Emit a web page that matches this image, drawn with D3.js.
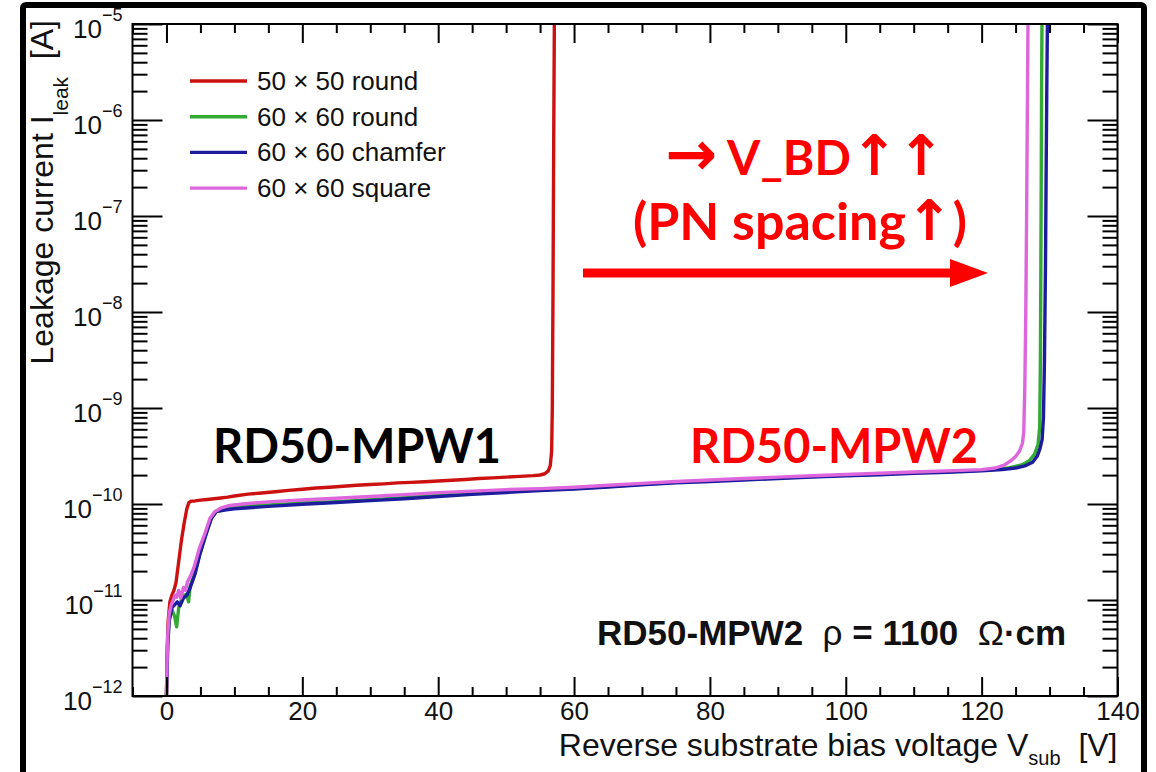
<!DOCTYPE html>
<html>
<head>
<meta charset="utf-8">
<script src="https://cdn.jsdelivr.net/npm/d3@7"></script>
<style>
  html, body { margin: 0; padding: 0; background: #fff; }
  svg { display: block; }
</style>
</head>
<body>
<svg id="chart" width="1156" height="772"></svg>
<script>
// ---------------- data ----------------
// voltages in V, currents as log10(I / A)
const seriesNames = ["50 \u00d7 50 round", "60 \u00d7 60 round", "60 \u00d7 60 chamfer", "60 \u00d7 60 square"];
const seriesColors = ["#cc1111", "#33aa33", "#1c1c9c", "#dd66dd"];

const redV    = [0, 0.1, 0.25, 0.5, 0.8, 1.1, 1.4, 1.8, 2.2, 2.6, 3.0, 3.3, 3.7, 4.2, 5, 6, 7, 8, 9, 10, 12, 14, 16, 18, 20, 22, 24, 26, 28, 30, 32, 34, 36, 38, 40, 42, 44, 46, 48, 50, 52, 54, 55, 55.7, 56.2, 56.5, 56.7, 56.8, 56.9, 57.0, 57.1];
const redLogI = [-12, -11.52, -11.22, -11.02, -10.95, -10.9, -10.82, -10.6, -10.38, -10.2, -10.05, -9.985, -9.97, -9.968, -9.96, -9.953, -9.946, -9.938, -9.929, -9.917, -9.897, -9.886, -9.872, -9.858, -9.846, -9.834, -9.826, -9.815, -9.805, -9.797, -9.79, -9.78, -9.775, -9.768, -9.76, -9.752, -9.745, -9.735, -9.728, -9.72, -9.712, -9.704, -9.698, -9.685, -9.655, -9.6, -9.45, -9.0, -7.8, -6.3, -5.0];

const greenV    = [0, 0.1, 0.2, 0.4, 0.8, 1.2, 1.5, 1.8, 2.2, 2.6, 3.0, 3.25, 3.5, 4.2, 4.9, 5.8, 6.6, 7.3, 8.8, 10, 15, 20, 25, 30, 35, 40, 45, 50, 55, 60, 65, 70, 75, 80, 85, 90, 95, 100, 105, 110, 115, 120, 124, 126, 127, 127.8, 128.3, 128.55, 128.65, 128.72, 128.78, 128.83, 128.88];
const greenLogI = [-12, -11.68, -11.42, -11.2, -11.1, -11.17, -11.28, -11.08, -11.0, -10.95, -10.94, -11.02, -10.85, -10.72, -10.52, -10.32, -10.15, -10.08, -10.05, -10.03, -10.01, -9.99, -9.975, -9.955, -9.935, -9.91, -9.89, -9.87, -9.852, -9.838, -9.817, -9.795, -9.775, -9.758, -9.743, -9.728, -9.714, -9.7, -9.69, -9.675, -9.664, -9.65, -9.625, -9.59, -9.55, -9.48, -9.38, -9.2, -8.5, -7.5, -6.5, -5.6, -5.0];

const blueV    = [0, 0.1, 0.2, 0.4, 0.8, 1.2, 1.6, 2.0, 2.5, 3.0, 3.5, 4.2, 4.9, 5.8, 6.6, 7.3, 8.8, 10, 15, 20, 25, 30, 35, 40, 45, 50, 55, 60, 65, 70, 75, 80, 85, 90, 95, 100, 105, 110, 115, 120, 123, 125, 126.5, 127.5, 128.2, 128.6, 128.9, 129.1, 129.25, 129.4, 129.5, 129.6, 129.68];
const blueLogI = [-12, -11.7, -11.45, -11.22, -11.08, -11.05, -11.02, -11.06, -10.98, -10.95, -10.87, -10.73, -10.53, -10.32, -10.15, -10.08, -10.06, -10.05, -10.025, -10.003, -9.985, -9.965, -9.945, -9.922, -9.9, -9.88, -9.86, -9.845, -9.823, -9.8, -9.78, -9.765, -9.75, -9.735, -9.72, -9.705, -9.695, -9.68, -9.67, -9.655, -9.64, -9.625, -9.6, -9.565, -9.5, -9.42, -9.33, -9.1, -8.5, -7.5, -6.5, -5.6, -5.0];

const magentaV    = [0, 0.1, 0.2, 0.4, 0.7, 1.0, 1.25, 1.5, 1.8, 2.1, 2.5, 2.8, 3.1, 3.6, 4.1, 4.85, 5.6, 6.4, 7.1, 8.1, 9.3, 12, 15, 20, 25, 30, 35, 40, 45, 50, 55, 60, 65, 70, 75, 80, 85, 90, 95, 100, 105, 110, 115, 120, 122, 123.3, 124.3, 125, 125.6, 126.0, 126.2, 126.35, 126.5, 126.62, 126.72, 126.82];
const magentaLogI = [-12, -11.6, -11.35, -11.15, -11.05, -11.0, -10.95, -10.97, -10.9, -10.98, -10.87, -10.9, -10.81, -10.74, -10.65, -10.46, -10.32, -10.15, -10.08, -10.04, -10.015, -9.995, -9.978, -9.958, -9.94, -9.922, -9.902, -9.882, -9.866, -9.85, -9.84, -9.825, -9.805, -9.785, -9.766, -9.75, -9.735, -9.72, -9.706, -9.692, -9.68, -9.667, -9.655, -9.642, -9.625, -9.595, -9.55, -9.505, -9.445, -9.37, -9.25, -8.8, -8.0, -7.0, -6.0, -5.0];

const xMajorTicks = [0, 20, 40, 60, 80, 100, 120, 140];
const xMinorTicks = [-5, 5, 10, 15, 25, 30, 35, 45, 50, 55, 65, 70, 75, 85, 90, 95, 105, 110, 115, 125, 130, 135];
const yExponents  = [-12, -11, -10, -9, -8, -7, -6, -5];

// ---------------- layout ----------------
const svg = d3.select("#chart");
const L = 132.5, R = 1117.5, T = 24, B = 696;
const x = d3.scaleLinear().domain([-5, 140]).range([L, R]);
const y = d3.scaleLog().domain([1e-12, 1e-5]).range([B, T]);
const axisFont = "'Liberation Sans', Arial, Helvetica, sans-serif";
const annFont = "Lato, 'Open Sans', sans-serif";
const arrowFont = "'DejaVu Sans', sans-serif";

svg.append("rect").attr("width", 1156).attr("height", 772).attr("fill", "#fff");
// outer thick frame
svg.append("rect").attr("x", 23).attr("y", 5).attr("width", 1121).attr("height", 820)
  .attr("rx", 3).attr("fill", "none").attr("stroke", "#000").attr("stroke-width", 6);

const series = [
  {V: redV, L: redLogI},
  {V: greenV, L: greenLogI},
  {V: blueV, L: blueLogI},
  {V: magentaV, L: magentaLogI}
];

// clip
svg.append("clipPath").attr("id", "clip").append("rect")
  .attr("x", L).attr("y", T).attr("width", R - L).attr("height", B - T);

const line = d3.line().x(d => x(d[0])).y(d => y(Math.pow(10, d[1])));
const gLines = svg.append("g").attr("clip-path", "url(#clip)");
series.forEach((s, i) => {
  const pts = s.V.map((v, j) => [v, s.L[j]]);
  gLines.append("path").attr("d", line(pts)).attr("fill", "none")
    .attr("stroke", seriesColors[i]).attr("stroke-width", 3.4)
    .attr("stroke-linejoin", "round").attr("stroke-linecap", "round");
});

// ---------------- axes ----------------
function styleAxis(g) {
  g.select(".domain").remove();
  g.selectAll("line").attr("stroke", "#000").attr("stroke-width", 2);
}
const yMajor = yExponents.map(e => Math.pow(10, e));
const yMinor = [];
for (let e = -12; e < -5; e++) for (let m = 2; m <= 9; m++) yMinor.push(m * Math.pow(10, e));

// bottom
svg.append("g").attr("transform", `translate(0,${B})`)
  .call(d3.axisBottom(x).tickValues(xMajorTicks).tickSizeInner(-19).tickSizeOuter(0).tickPadding(6).tickFormat(d3.format("d")))
  .call(styleAxis)
  .call(g => g.selectAll("text").attr("font-family", axisFont).attr("font-size", 26).attr("fill", "#111"));
svg.append("g").attr("transform", `translate(0,${B})`)
  .call(d3.axisBottom(x).tickValues(xMinorTicks).tickSizeInner(-9).tickSizeOuter(0).tickFormat(""))
  .call(styleAxis);
// top
svg.append("g").attr("transform", `translate(0,${T})`)
  .call(d3.axisTop(x).tickValues(xMajorTicks).tickSizeInner(-19).tickSizeOuter(0).tickFormat(""))
  .call(styleAxis);
svg.append("g").attr("transform", `translate(0,${T})`)
  .call(d3.axisTop(x).tickValues(xMinorTicks).tickSizeInner(-9).tickSizeOuter(0).tickFormat(""))
  .call(styleAxis);
// left
svg.append("g").attr("transform", `translate(${L},0)`)
  .call(d3.axisLeft(y).tickValues(yMajor).tickSizeInner(-30).tickSizeOuter(0).tickFormat(""))
  .call(styleAxis)
  .call(g => g.selectAll(".tick").each(function(d) {
    const e = Math.round(Math.log10(d));
    const t = d3.select(this).append("text")
      .attr("x", -10).attr("y", 13).attr("text-anchor", "end")
      .attr("font-family", axisFont).attr("fill", "#111");
    t.append("tspan").attr("font-size", 26).text("10");
    t.append("tspan").attr("font-size", 18).attr("dy", -17).text("\u2212" + Math.abs(e));
  }));
svg.append("g").attr("transform", `translate(${L},0)`)
  .call(d3.axisLeft(y).tickValues(yMinor).tickSizeInner(-15).tickSizeOuter(0).tickFormat(""))
  .call(styleAxis);
// right
svg.append("g").attr("transform", `translate(${R},0)`)
  .call(d3.axisRight(y).tickValues(yMajor).tickSizeInner(-30).tickSizeOuter(0).tickFormat(""))
  .call(styleAxis);
svg.append("g").attr("transform", `translate(${R},0)`)
  .call(d3.axisRight(y).tickValues(yMinor).tickSizeInner(-15).tickSizeOuter(0).tickFormat(""))
  .call(styleAxis);

// frame
svg.append("rect").attr("x", L).attr("y", T).attr("width", R - L).attr("height", B - T)
  .attr("fill", "none").attr("stroke", "#000").attr("stroke-width", 2);

// axis titles
const xt = svg.append("text").attr("x", R).attr("y", 756).attr("text-anchor", "end")
  .attr("font-family", axisFont).attr("font-size", 32).attr("fill", "#111");
xt.append("tspan").text("Reverse substrate bias voltage V");
xt.append("tspan").attr("font-size", 20).attr("dy", 9).text("sub");
xt.append("tspan").attr("dy", -9).text("\u00a0\u00a0[V]");

const yt = svg.append("text").attr("transform", "translate(53,0) rotate(-90)")
  .attr("x", -20).attr("y", 0).attr("text-anchor", "end")
  .attr("font-family", axisFont).attr("font-size", 32).attr("fill", "#111");
yt.append("tspan").text("Leakage current I");
yt.append("tspan").attr("font-size", 21).attr("dy", 15).text("leak");
yt.append("tspan").attr("dy", -15).text("\u00a0\u00a0[A]");

// legend
const lg = svg.append("g");
seriesNames.forEach((n, i) => {
  const yy = 81 + i * 35.7;
  lg.append("line").attr("x1", 190).attr("x2", 247).attr("y1", yy).attr("y2", yy)
    .attr("stroke", seriesColors[i]).attr("stroke-width", 3.4);
  lg.append("text").attr("x", 257).attr("y", yy + 9)
    .attr("font-family", axisFont).attr("font-size", 26).attr("fill", "#111").text(n);
});

// annotations
svg.append("text").attr("x", 357).attr("y", 463).attr("text-anchor", "middle")
  .attr("font-family", annFont).attr("font-weight", 700).attr("font-size", 47).attr("fill", "#000")
  .text("RD50-MPW1");
svg.append("text").attr("x", 834).attr("y", 463).attr("text-anchor", "middle")
  .attr("font-family", annFont).attr("font-weight", 700).attr("font-size", 47).attr("fill", "#ff0000")
  .text("RD50-MPW2");
const a1 = svg.append("text").attr("x", 805).attr("y", 175).attr("text-anchor", "middle")
  .attr("font-family", annFont).attr("font-weight", 700).attr("font-size", 48).attr("fill", "#ff0000");
a1.append("tspan").attr("font-family", arrowFont).attr("font-size", 62).text("\u2192");
a1.append("tspan").text(" V_BD");
a1.append("tspan").attr("font-family", arrowFont).attr("font-size", 56).text("\u2191\u2191");
const a2 = svg.append("text").attr("x", 800).attr("y", 240).attr("text-anchor", "middle")
  .attr("font-family", annFont).attr("font-weight", 700).attr("font-size", 52).attr("fill", "#ff0000");
a2.append("tspan").text("(PN spacing");
a2.append("tspan").attr("font-family", arrowFont).attr("font-size", 56).text("\u2191");
a2.append("tspan").text(")");
// red arrow
svg.append("line").attr("x1", 583).attr("x2", 955).attr("y1", 273).attr("y2", 273)
  .attr("stroke", "#ff0000").attr("stroke-width", 9);
svg.append("path").attr("d", "M950,259 L988,273 L950,287 Z").attr("fill", "#ff0000");

const rt = svg.append("text").attr("x", 597).attr("y", 645)
  .attr("font-family", axisFont).attr("font-weight", 700).attr("font-size", 35).attr("fill", "#111");
rt.append("tspan").text("RD50-MPW2\u00a0\u00a0");
rt.append("tspan").attr("font-weight", 400).text("\u03c1");
rt.append("tspan").text(" = 1100\u00a0\u00a0");
rt.append("tspan").attr("font-weight", 400).text("\u03a9");
rt.append("tspan").text("\u00b7cm");
</script>
</body>
</html>
